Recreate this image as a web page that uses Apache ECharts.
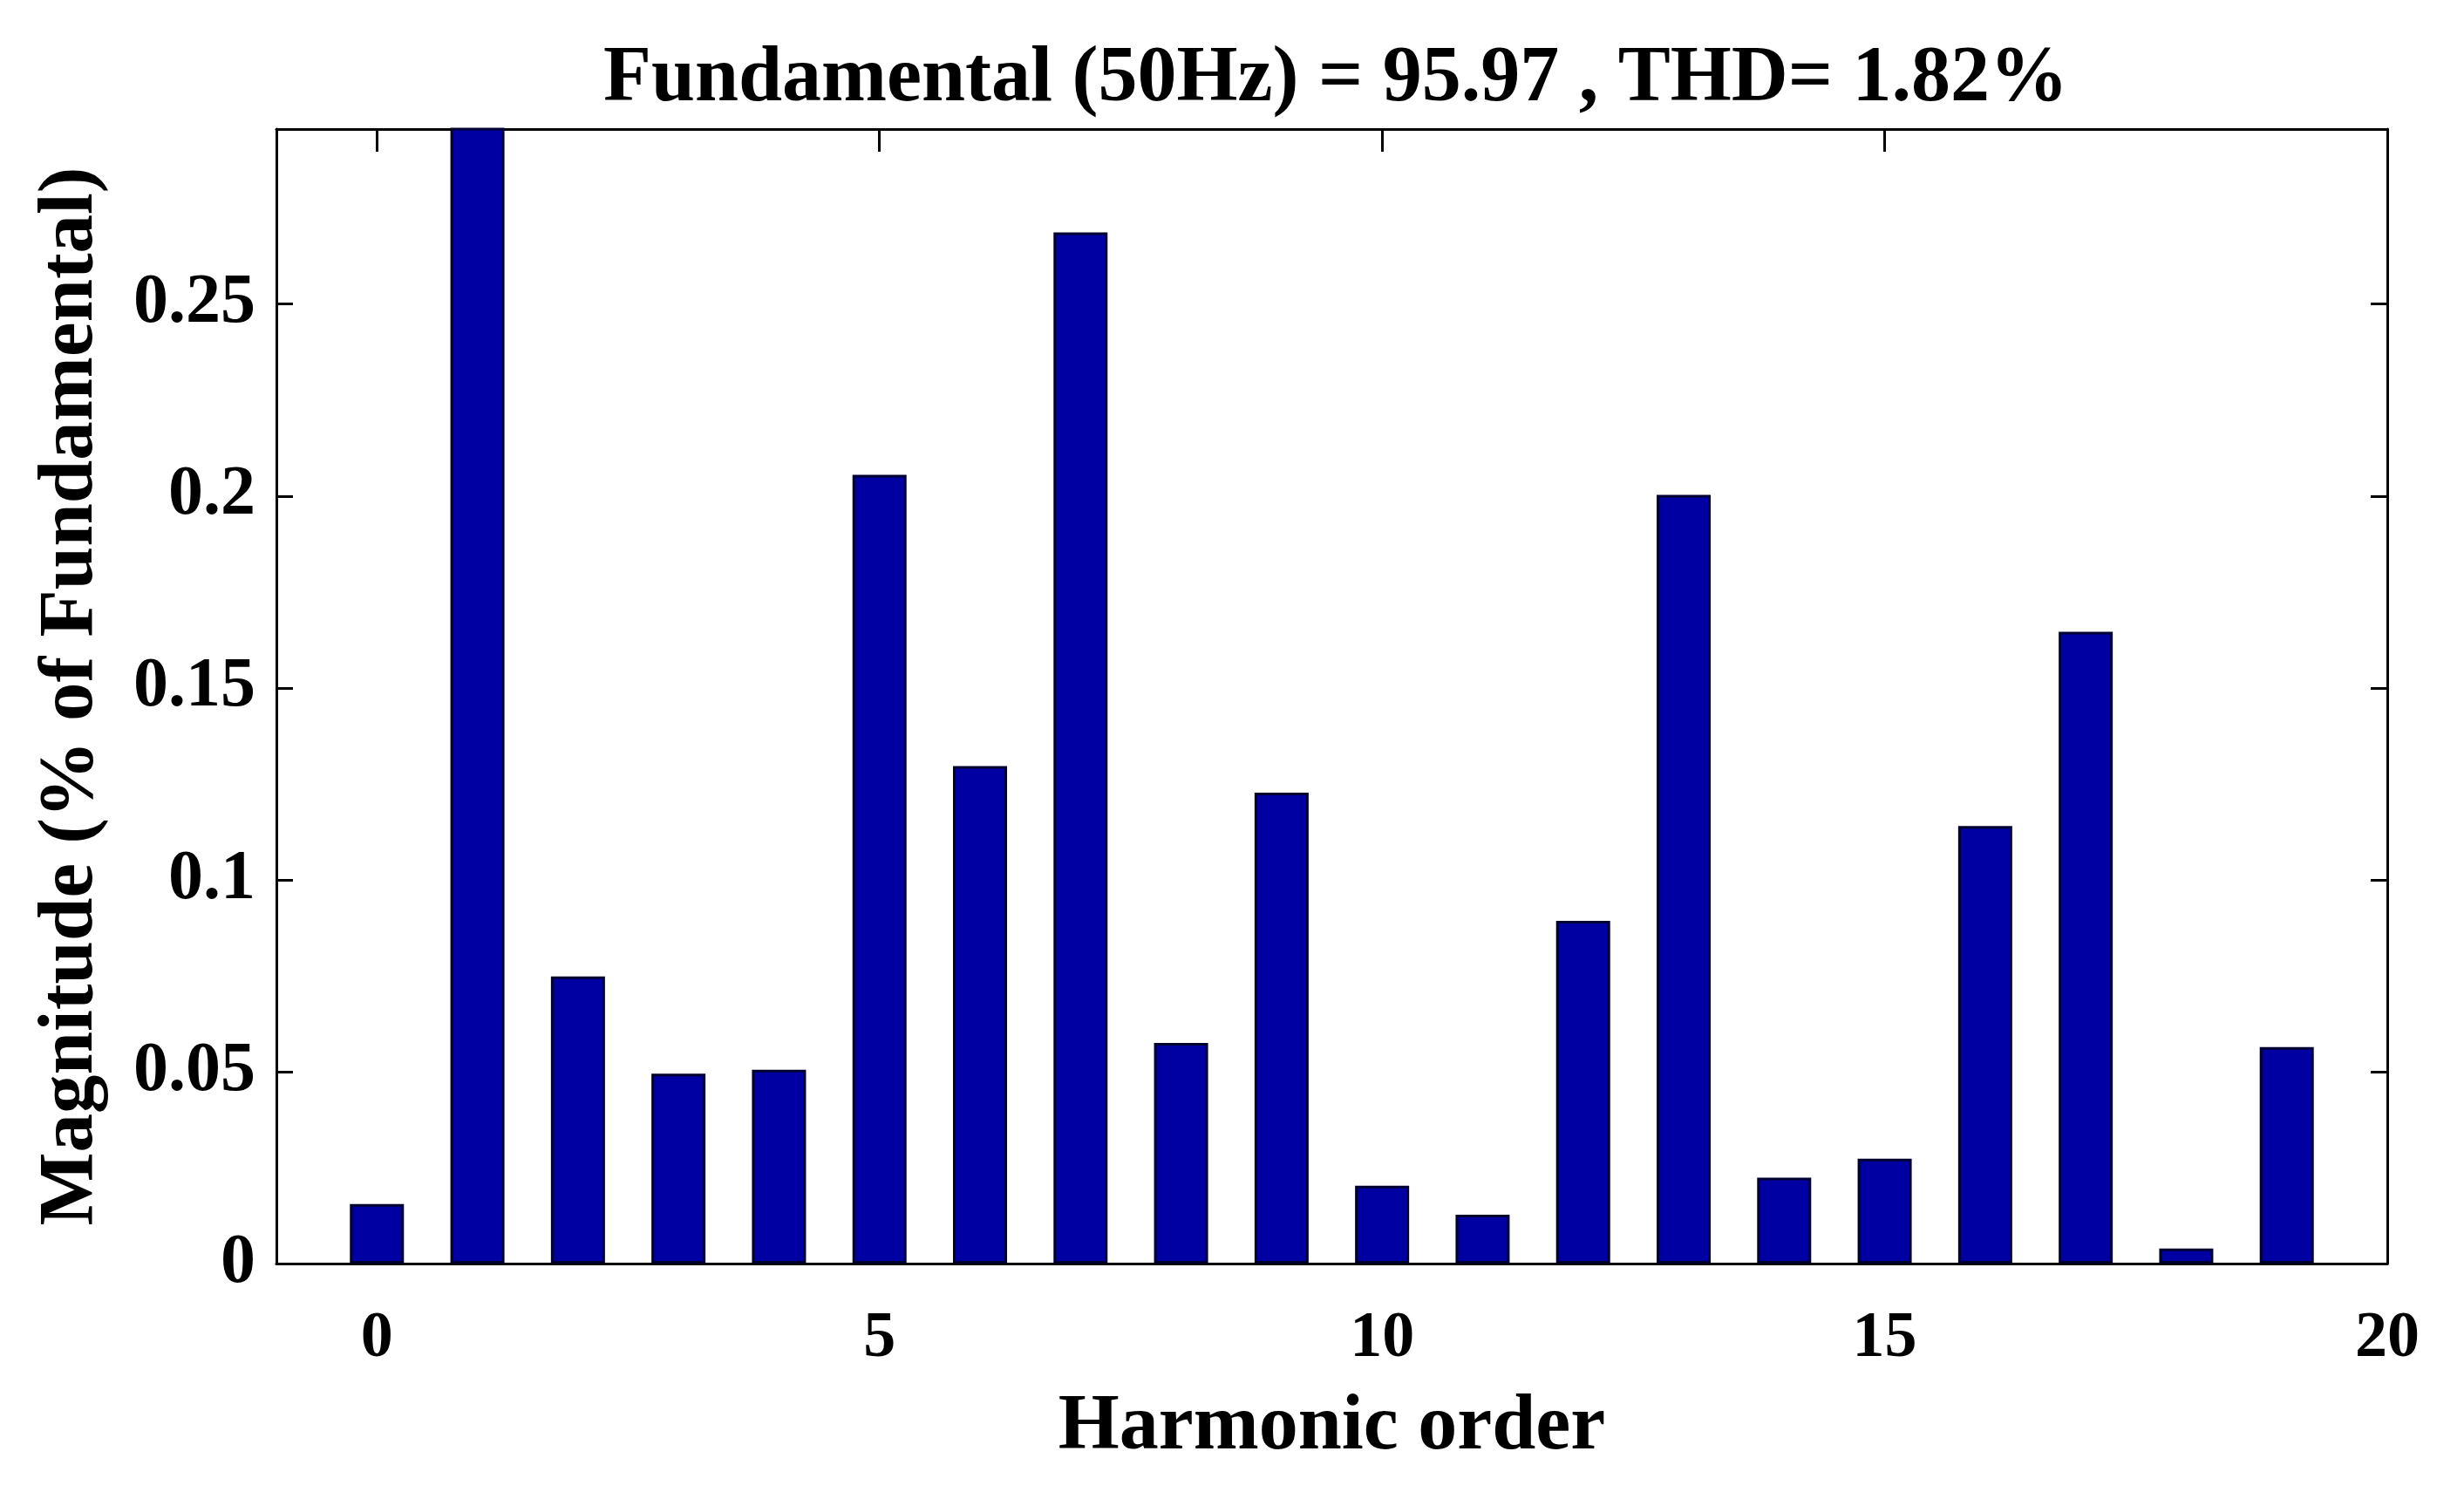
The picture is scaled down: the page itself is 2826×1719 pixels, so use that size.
<!DOCTYPE html>
<html>
<head>
<meta charset="utf-8">
<script src="https://cdn.jsdelivr.net/npm/echarts@6/dist/echarts.min.js"></script>
<style>
html,body{margin:0;padding:0;background:#ffffff;}
#chart{width:2826px;height:1719px;}
</style>
</head>
<body>
<div id="chart"></div>
<script>
// ---- data ----
const harmonicOrder = [0,1,2,3,4,5,6,7,8,9,10,11,12,13,14,15,16,17,18,19];
// magnitude in % of fundamental (the fundamental itself, order 1, is 100% and runs off the top)
const magnitude = [0.0155, 100, 0.0748, 0.0495, 0.0505, 0.2055, 0.1296, 0.2687, 0.0575, 0.1227,
                   0.0203, 0.0127, 0.0893, 0.2003, 0.0224, 0.0273, 0.1140, 0.1646, 0.0039, 0.0564];
const xTickValues = [0, 5, 10, 15, 20];
const yTickValues = [0, 0.05, 0.1, 0.15, 0.2, 0.25];
const xRange = [-1, 20];
const yRange = [0, 0.2956];
const titleText = 'Fundamental (50Hz) = 95.97 , THD= 1.82%';
const xAxisTitle = 'Harmonic order';
const yAxisTitle = 'Magnitude (% of Fundamental)';

// ---- chart ----
const FONT = "'Liberation Serif', 'Times New Roman', serif";
const chart = echarts.init(document.getElementById('chart'), null, {renderer: 'canvas'});

const frameLine = {show: true, onZero: false, lineStyle: {color: '#000', width: 3}};
const xTick = {show: true, inside: true, length: 26, customValues: xTickValues, lineStyle: {color: '#000', width: 3}};
const yTick = {show: true, inside: true, length: 19, customValues: yTickValues, lineStyle: {color: '#000', width: 3}};

const option = {
  backgroundColor: '#ffffff',
  animation: false,
  title: {
    text: titleText,
    left: 1527,
    textAlign: 'center',
    top: 42,
    textStyle: {fontFamily: FONT, fontWeight: 'bold', fontSize: 90, color: '#000'}
  },
  grid: {left: 317, right: 88, top: 148, bottom: 270, containLabel: false},
  xAxis: [
    {
      type: 'value', position: 'bottom', min: xRange[0], max: xRange[1],
      axisLine: frameLine, axisTick: xTick,
      axisLabel: {show: true, customValues: xTickValues, margin: 50,
                  fontFamily: FONT, fontWeight: 'bold', fontSize: 74, color: '#000'},
      splitLine: {show: false},
      name: xAxisTitle, nameLocation: 'middle', nameGap: 144,
      nameTextStyle: {fontFamily: FONT, fontWeight: 'bold', fontSize: 90, color: '#000'}
    },
    {
      type: 'value', position: 'top', min: xRange[0], max: xRange[1],
      axisLine: frameLine, axisTick: xTick,
      axisLabel: {show: false}, splitLine: {show: false}
    }
  ],
  yAxis: [
    {
      type: 'value', position: 'left', min: yRange[0], max: yRange[1],
      axisLine: frameLine, axisTick: yTick,
      axisLabel: {show: true, customValues: yTickValues, margin: 24,
                  fontFamily: FONT, fontWeight: 'bold', fontSize: 80, color: '#000'},
      splitLine: {show: false},
      name: yAxisTitle, nameLocation: 'middle', nameGap: 190, nameRotate: 90,
      nameTextStyle: {fontFamily: FONT, fontWeight: 'bold', fontSize: 89, color: '#000'}
    },
    {
      type: 'value', position: 'right', min: yRange[0], max: yRange[1],
      axisLine: frameLine, axisTick: yTick,
      axisLabel: {show: false}, splitLine: {show: false}
    }
  ],
  series: [
    {
      type: 'bar',
      xAxisIndex: 0, yAxisIndex: 0,
      data: harmonicOrder.map((h, i) => [h, magnitude[i]]),
      barWidth: 62,
      clip: true,
      itemStyle: {color: '#0000A2', borderColor: '#000030', borderWidth: 3},
      z: 1
    }
  ]
};
chart.setOption(option);
</script>
</body>
</html>
